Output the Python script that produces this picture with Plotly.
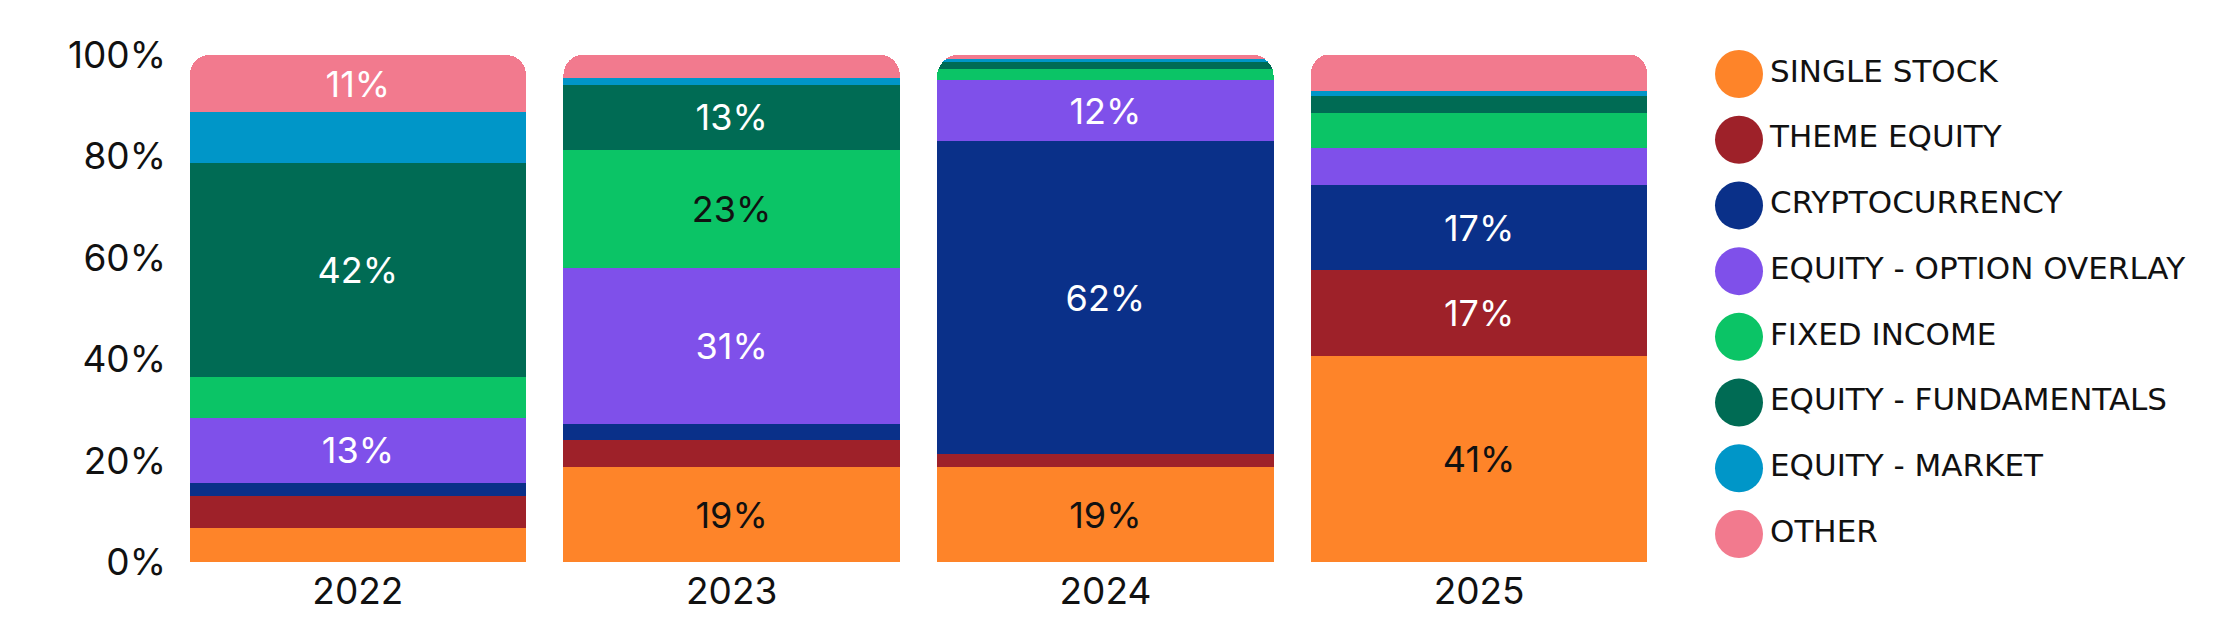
import plotly.graph_objects as go

years = ["2022", "2023", "2024", "2025"]
categories = ["SINGLE STOCK", "THEME EQUITY", "CRYPTOCURRENCY", "EQUITY - OPTION OVERLAY",
              "FIXED INCOME", "EQUITY - FUNDAMENTALS", "EQUITY - MARKET", "OTHER"]
colors = ["#FE8429", "#9E2129", "#0A3089", "#7F50EA", "#0BC466", "#006B54", "#0096C8", "#F27A8E"]
text_colors = ["#111111", "#FFFFFF", "#FFFFFF", "#FFFFFF", "#111111", "#FFFFFF", "#FFFFFF", "#FFFFFF"]

y_tick_values = [0, 20, 40, 60, 80, 100]
y_tick_labels = ["0%", "20%", "40%", "60%", "80%", "100%"]

single_stock = [6.7, 18.7, 18.65, 40.7]
theme_equity = [6.4, 5.3, 2.6, 16.8]
cryptocurrency = [2.4, 3.2, 61.8, 16.8]
option_overlay = [13.0, 30.8, 12.0, 7.3]
fixed_income = [7.9, 23.3, 2.1, 7.0]
fundamentals = [42.3, 12.85, 1.5, 3.4]
equity_market = [10.0, 1.3, 0.6, 0.9]
other = [11.3, 4.6, 0.75, 7.3]

series = [single_stock, theme_equity, cryptocurrency, option_overlay,
          fixed_income, fundamentals, equity_market, other]

W, H = 2224, 634
fig = go.Figure()

for name, vals, col, tcol in zip(categories, series, colors, text_colors):
    labels = [f"{round(v)}%" if v >= 10.5 and not (name == "EQUITY - MARKET") else "" for v in vals]
    fig.add_trace(go.Bar(
        x=years, y=vals, name=name, marker=dict(color=col, line=dict(width=0)),
        text=labels, textposition="inside", insidetextanchor="middle", textangle=0,
        insidetextfont=dict(color=tcol, size=36, family="Inter"),
        showlegend=False, hoverinfo="skip",
    ))

# Legend drawn as a scatter on its own hidden axes
fig.add_trace(go.Scatter(
    x=[0] * len(categories), y=list(range(len(categories))),
    mode="markers+text", text=categories, textposition="middle right",
    marker=dict(size=48, color=colors, line=dict(width=0)),
    textfont=dict(size=31, color="#111111", family="DejaVu Sans"),
    xaxis="x2", yaxis="y2", showlegend=False, hoverinfo="skip", cliponaxis=False,
))

fig.update_layout(
    width=W, height=H,
    margin=dict(l=0, r=0, t=0, b=0),
    paper_bgcolor="white", plot_bgcolor="white",
    barmode="stack", bargap=0.10, barcornerradius=20,
    showlegend=False,
    xaxis=dict(domain=[163 / W, 1658 / W], showgrid=False, zeroline=False, showline=False,
               tickfont=dict(size=37, color="#111111", family="Inter"),
               ticks="", ticklabelstandoff=4, automargin=False, fixedrange=True),
    yaxis=dict(domain=[1 - 554 / H, 1 - 47 / H], range=[0, 100], showgrid=False, zeroline=False,
               showline=False, tickmode="array", tickvals=y_tick_values, ticktext=y_tick_labels,
               tickfont=dict(size=37, color="#111111", family="Inter"),
               ticks="", ticklabelstandoff=4, automargin=False, fixedrange=True),
    xaxis2=dict(domain=[1731 / W, 1.0], range=[0, 1], visible=False, fixedrange=True),
    yaxis2=dict(domain=[1 - 526 / H, 1 - 66 / H], range=[7, 0], visible=False, fixedrange=True,
                anchor="x2"),
    uniformtext=dict(minsize=30, mode="show"),
)

fig.write_html("out.html")
